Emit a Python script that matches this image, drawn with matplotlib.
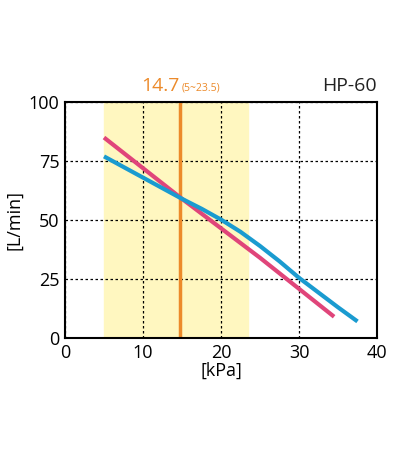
import numpy as np
import matplotlib.pyplot as plt

plt.rcParams['font.family'] = ['Open Sans', 'DejaVu Sans']

# values
pink_x = [5, 15, 25, 34.5]
pink_y = [85, 59, 34, 9]
blue_x = [5, 10, 15, 17.5, 20, 22.5, 25, 27.5, 30, 35, 37.5]
blue_y = [77, 68, 59, 54.8, 50.2, 45, 39, 32.5, 25.5, 13, 7]
rated = 14.7
band = (5, 23.5)

fig = plt.figure(figsize=(4, 4.5), dpi=100)
ax = fig.add_axes([0.1625, 0.249, 0.78, 0.524])

ax.axvspan(band[0], band[1], color='#fff7c0', zorder=0)
ax.axvline(rated, color='#ec8a2a', lw=2.5, zorder=3)
ax.plot(pink_x, pink_y, color='#e0457a', lw=3, solid_capstyle='butt', zorder=4)
ax.plot(blue_x, blue_y, color='#1a9bd0', lw=3, solid_capstyle='butt', zorder=5)

ax.set_xlim(0, 40)
ax.set_ylim(0, 100)
ax.set_xticks([0, 10, 20, 30, 40])
ax.set_yticks([0, 25, 50, 75, 100])
ax.grid(True, color='black', ls=(0, (2, 2)), lw=0.9)
ax.set_axisbelow(False)
for s in ax.spines.values():
    s.set_linewidth(1.5)
    s.set_zorder(6)
ax.tick_params(length=0, labelsize=13, pad=4)
ax.set_xlabel('[kPa]', fontsize=13, labelpad=0)
ax.set_ylabel('[L/min]', fontsize=13, labelpad=4)

ax.text(14.7, 103, '14.7', color='#ec8a2a', fontsize=14, ha='right', va='bottom')
ax.text(14.9, 103.5, '(5~23.5)', color='#ec8a2a', fontsize=7.5, ha='left', va='bottom')
ax.text(40, 103, 'HP-60', color='#222222', fontsize=14, ha='right', va='bottom')

fig.savefig('out.png', dpi=100)
